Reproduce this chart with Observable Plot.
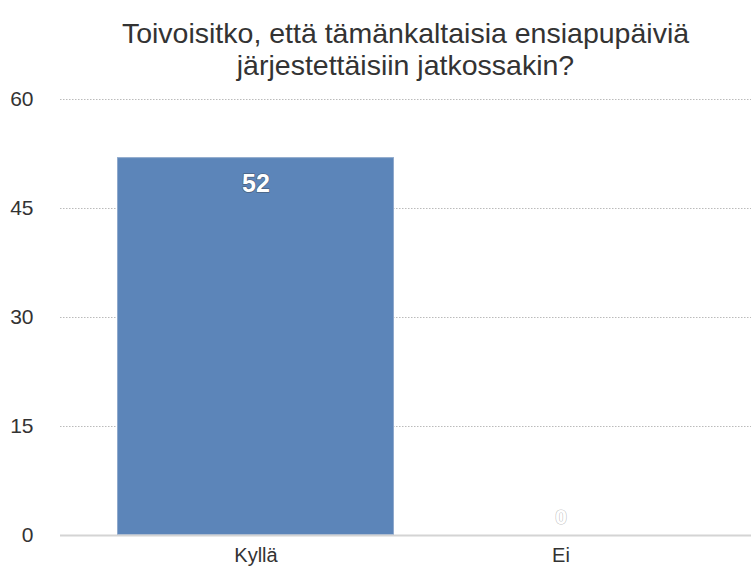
<!DOCTYPE html>
<html>
<head>
<meta charset="utf-8">
<script src="https://cdn.jsdelivr.net/npm/d3@7"></script>
<script src="https://cdn.jsdelivr.net/npm/@observablehq/plot@0.6"></script>
<style>
  html, body { margin: 0; padding: 0; background: #fff; }
  #title {
    width: 751px; box-sizing: border-box; padding-left: 60px; height: 80px;
    padding-top: 17px;
    text-align: center; font-family: "Liberation Sans", Arial, sans-serif;
    font-size: 28.5px; line-height: 32px; color: #333;
  }
  svg { display: block; }
</style>
</head>
<body>
<div id="title">Toivoisitko, että tämänkaltaisia ensiapupäiviä<br>järjestettäisiin jatkossakin?</div>
<div id="chart"></div>
<script>
const categories = ["Kyllä", "Ei"];
const counts = [52, 0];
const yTicks = [0, 15, 30, 45, 60];

const data = categories.map((c, i) => ({category: c, value: counts[i]}));

const chart = Plot.plot({
  width: 751,
  height: 492,
  marginTop: 19,
  marginBottom: 37,
  marginLeft: 60,
  marginRight: 0,
  style: {fontFamily: "'Liberation Sans', Arial, sans-serif", fontSize: "20px", color: "#333", background: "#fff"},
  x: {domain: categories, paddingInner: 0.093, paddingOuter: 0.047, insetLeft: 42, insetRight: 38, label: null},
  y: {domain: [0, 60], ticks: yTicks, label: null},
  marks: [
    Plot.ruleY(yTicks.filter(d => d > 0), {stroke: "#bbb", strokeDasharray: "1.5,1.5", strokeWidth: 1}),
    Plot.barY(data, {x: "category", y: "value", fill: "#5c85b9", stroke: "#8fa9cc", strokeWidth: 1, inset: 0.5}),
    Plot.ruleY([0], {stroke: "#d4d4d4", strokeWidth: 2}),
    Plot.axisY({ticks: yTicks, tickSize: 0, tickPadding: 27, fontSize: 21, fill: "#333"}),
    Plot.axisX({tickSize: 0, tickPadding: 12, fontSize: 20, fill: "#333"}),
    Plot.text(data.filter(d => d.value > 5), {x: "category", y: "value", text: d => String(d.value), dy: 26, fill: "white", stroke: "#333", strokeWidth: 1.5, strokeOpacity: 0.45, fontSize: 25, fontWeight: "bold"}),
    Plot.text(data.filter(d => d.value <= 5), {x: "category", y: "value", text: d => String(d.value), dy: -18, fill: "white", stroke: "#888", strokeWidth: 1.2, strokeOpacity: 0.5, fontSize: 21, fontWeight: "bold"})
  ]
});
document.getElementById("chart").appendChild(chart);
</script>
</body>
</html>
